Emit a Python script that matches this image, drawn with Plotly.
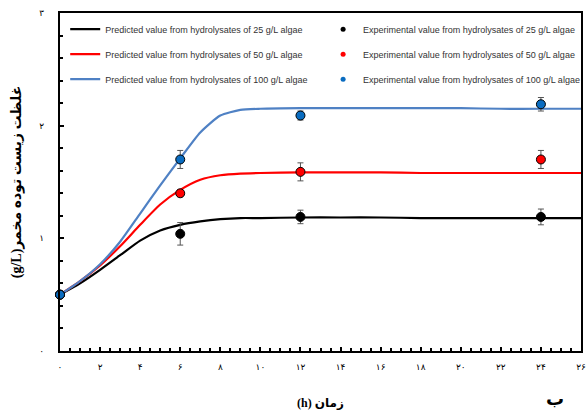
import plotly.graph_objects as go

# ---- data ----
t_pred = [0, 1, 2, 3, 4, 5, 6, 7, 8, 9, 10, 12, 14, 16, 18, 20, 22, 24, 26]
pred_25 = [0.50, 0.60, 0.72, 0.85, 0.98, 1.07, 1.12, 1.15, 1.17, 1.18, 1.18, 1.185, 1.185, 1.185, 1.18, 1.18, 1.18, 1.18, 1.18]
pred_50 = [0.50, 0.62, 0.76, 0.93, 1.12, 1.30, 1.43, 1.52, 1.56, 1.575, 1.58, 1.585, 1.585, 1.585, 1.58, 1.58, 1.58, 1.58, 1.58]
pred_100 = [0.50, 0.62, 0.77, 0.97, 1.22, 1.47, 1.71, 1.94, 2.09, 2.14, 2.15, 2.155, 2.155, 2.155, 2.155, 2.155, 2.15, 2.15, 2.15]

t_exp = [0, 6, 12, 24]
exp_25 = [0.50, 1.04, 1.19, 1.19]
err_25 = [0.0, 0.10, 0.06, 0.07]
exp_50 = [0.50, 1.40, 1.59, 1.70]
err_50 = [0.0, 0.03, 0.08, 0.08]
exp_100 = [0.50, 1.70, 2.09, 2.19]
err_100 = [0.0, 0.08, 0.04, 0.06]

x_ticks = list(range(0, 27, 2))
y_ticks = [0, 1, 2, 3]

def fa(n):
    return str(n).translate(str.maketrans("0123456789", "۰۱۲۳۴۵۶۷۸۹"))

line_colors = ["#000000", "#ff0000", "#4f81c4"]
marker_colors = ["#000000", "#ff0000", "#0a6cc0"]
labels = ["25", "50", "100"]
series = [(pred_25, exp_25, err_25), (pred_50, exp_50, err_50), (pred_100, exp_100, err_100)]

fig = go.Figure()
for i, (yp, ye, er) in enumerate(series):
    fig.add_trace(go.Scatter(
        x=t_pred, y=yp, mode="lines",
        line=dict(color=line_colors[i], width=2.2, shape="spline", smoothing=0.6),
        name=f"Predicted value from hydrolysates of {labels[i]} g/L algae",
        legend="legend", legendgroup=f"p{i}", cliponaxis=False))
for i, (yp, ye, er) in enumerate(series):
    fig.add_trace(go.Scatter(
        x=t_exp, y=ye, mode="markers",
        marker=dict(color=marker_colors[i], size=9, line=dict(color="#000000", width=1)),
        error_y=dict(type="data", array=er, color="#555555", thickness=1, width=3),
        showlegend=False, legendgroup=f"e{i}", cliponaxis=False))
    # legend entry with small dot, as in the original
    fig.add_trace(go.Scatter(
        x=[None], y=[None], mode="markers",
        marker=dict(color=marker_colors[i], size=5),
        name=f"Experimental value from hydrolysates of {labels[i]} g/L algae",
        legend="legend2", legendgroup=f"e{i}"))

legend_common = dict(font=dict(family="Liberation Sans, Arial", size=9, color="#333333"),
                     bgcolor="rgba(0,0,0,0)", tracegroupgap=6, itemwidth=30,
                     yanchor="top", xanchor="left")

serif = "Liberation Serif, DejaVu Sans"

fig.update_layout(
    width=588, height=411,
    margin=dict(l=60, r=3, t=13, b=60),
    paper_bgcolor="white", plot_bgcolor="white",
    showlegend=True,
    legend=dict(x=0.01, y=0.995, **legend_common),
    legend2=dict(x=0.505, y=0.995, **legend_common),
    xaxis=dict(range=[0, 26], tickvals=x_ticks, ticktext=[fa(v) for v in x_ticks],
               ticks="inside", ticklen=4, tickwidth=1.5, tickcolor="black",
               minor=dict(dtick=0.5, ticks="inside", ticklen=3, tickcolor="black"),
               showline=True, linecolor="black", linewidth=2, mirror=True,
               showgrid=False, zeroline=False, ticklabelstandoff=6,
               tickfont=dict(family="DejaVu Sans", size=9, color="black"),
               title=dict(text="<b>(h) زمان</b>", font=dict(family=serif, size=12, color="black"), standoff=28)),
    yaxis=dict(range=[0, 3], tickvals=y_ticks, ticktext=[fa(v) for v in y_ticks],
               ticks="inside", ticklen=4, tickwidth=1.5, tickcolor="black",
               minor=dict(dtick=0.2, ticks="inside", ticklen=3, tickcolor="black"),
               showline=True, linecolor="black", linewidth=2, mirror=True,
               showgrid=False, zeroline=False, ticklabelstandoff=12,
               tickfont=dict(family="DejaVu Sans", size=9, color="black"),
               title=dict(text="<b>(g/L)غلظت زیست توده مخمر</b>", font=dict(family=serif, size=14, color="black"), standoff=14)),
    annotations=[dict(text="<b>ب</b>", xref="paper", yref="paper", x=0.95, y=-0.105,
                      xanchor="center", yanchor="top",
                      showarrow=False, font=dict(family="DejaVu Sans", size=18, color="black"))],
)

fig.write_html("out.html")
